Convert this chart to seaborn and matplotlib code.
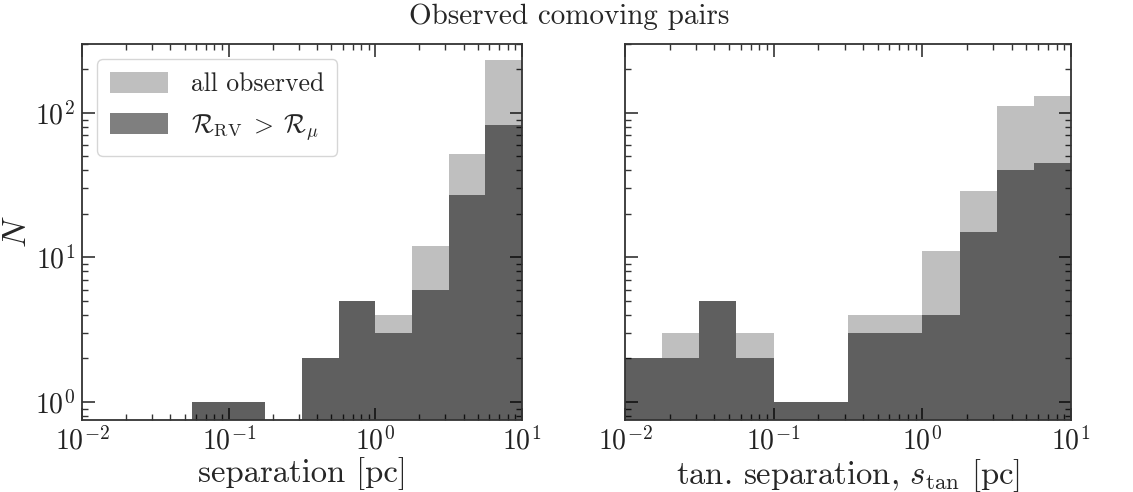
import numpy as np
import matplotlib
matplotlib.use("Agg")
import matplotlib.pyplot as plt
import seaborn as sns

# log10 bin edges: 4 bins per decade from 1e-2 to 1e1
log_lo, log_hi, log_step = -2.0, 1.0, 0.25

# counts per bin (12 bins)
sep_all = [0, 0, 0, 1, 1, 0, 2, 5, 4, 12, 52, 233]
sep_rv = [0, 0, 0, 1, 1, 0, 2, 5, 3, 6, 27, 82]
stan_all = [2, 3, 5, 3, 1, 1, 4, 4, 11, 29, 112, 131]
stan_rv = [2, 2, 5, 2, 1, 1, 3, 3, 4, 15, 40, 45]

title = "Observed comoving pairs"
xlabels = ["separation [pc]", r"tan. separation, $s_{\mathrm{tan}}$ [pc]"]
legend_labels = ["all observed", r"$\mathcal{R}_{\mathrm{RV}}\;>\;\mathcal{R}_\mu$"]

sns.set_style("ticks")
plt.rcParams.update({
    "font.family": "serif",
    "font.serif": ["cmr10"],
    "mathtext.fontset": "cm",
    "axes.formatter.use_mathtext": True,
    "axes.unicode_minus": True,
    "font.size": 20,
    "axes.edgecolor": "#333333",
    "axes.linewidth": 1.3,
    "xtick.color": "#333333",
    "ytick.color": "#333333",
    "xtick.labelcolor": "#222222",
    "ytick.labelcolor": "#222222",
})

nb = int(round((log_hi - log_lo) / log_step))
centers = 10 ** (log_lo + log_step * (np.arange(nb) + 0.5))

fig = plt.figure(figsize=(11.33, 4.92), dpi=100)
ax1 = fig.add_axes([0.0724, 0.1463, 0.3883, 0.7643])
ax2 = fig.add_axes([0.5516, 0.1463, 0.3937, 0.7643], sharey=ax1)

for ax, a, r, xl in [(ax1, sep_all, sep_rv, xlabels[0]), (ax2, stan_all, stan_rv, xlabels[1])]:
    sns.histplot(x=centers, weights=a, binwidth=log_step, binrange=(log_lo, log_hi),
                 log_scale=True, color="k", alpha=0.25, linewidth=0, ax=ax,
                 label=legend_labels[0])
    sns.histplot(x=centers, weights=r, binwidth=log_step, binrange=(log_lo, log_hi),
                 log_scale=True, color="k", alpha=0.5, linewidth=0, ax=ax,
                 label=legend_labels[1])
    ax.set_yscale("log")
    ax.set_xlim(1e-2, 1e1)
    ax.set_xlabel(xl, fontsize=23.5, labelpad=1)
    ax.tick_params(which="both", direction="in", top=True, right=True)
    ax.tick_params(which="major", length=9, width=1.2, labelsize=20, pad=5)
    ax.tick_params(which="minor", length=4.5, width=1.0)
    ax.xaxis.set_minor_locator(matplotlib.ticker.LogLocator(base=10, subs=np.arange(2, 10), numticks=20))
    ax.yaxis.set_minor_locator(matplotlib.ticker.LogLocator(base=10, subs=np.arange(2, 10), numticks=20))
    ax.yaxis.set_minor_formatter(matplotlib.ticker.NullFormatter())
    ax.xaxis.set_minor_formatter(matplotlib.ticker.NullFormatter())

ax1.set_ylim(0.75, 300)
ax1.set_ylabel(r"$N$", fontsize=25)
ax1.yaxis.set_label_coords(-0.112, 0.5)
ax2.set_ylabel("")
ax2.tick_params(axis="y", labelleft=False)

leg = ax1.legend(loc="upper left", fontsize=18.5, frameon=True, fancybox=True,
                 handlelength=2.25, handleheight=0.85, handletextpad=0.9,
                 borderpad=0.5, labelspacing=0.6, borderaxespad=0.6)
leg.get_frame().set_edgecolor("#cccccc")

fig.text(0.502, 0.965, title, ha="center", va="center", fontsize=21)

fig.savefig("out.png", dpi=100)
